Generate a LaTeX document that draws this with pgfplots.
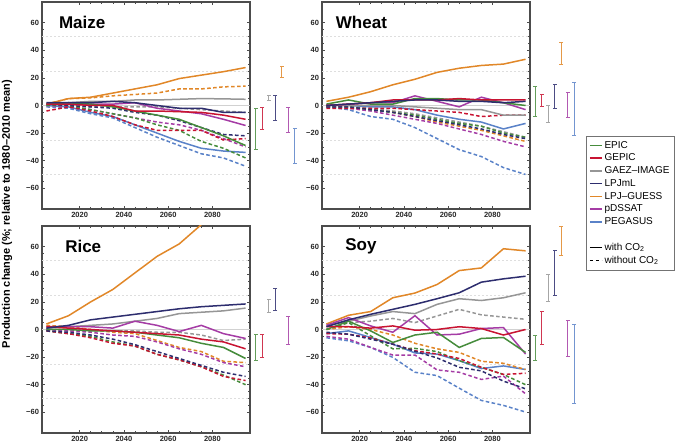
\documentclass[border=0pt]{standalone}
\usepackage{fontspec}
\setmainfont{Liberation Sans}
\usepackage{pgfplots}
\usepackage{pgfplotstable}
\pgfplotsset{compat=1.18}

\definecolor{cEP}{RGB}{70,140,60}
\definecolor{cGE}{RGB}{200,20,50}
\definecolor{cGA}{RGB}{150,150,150}
\definecolor{cLJ}{RGB}{45,45,110}
\definecolor{cLG}{RGB}{225,135,40}
\definecolor{cPD}{RGB}{165,60,165}
\definecolor{cPE}{RGB}{90,130,200}

% columns: w = with CO2, o = without CO2
\pgfplotstableread{
yr   EPw  EPo  GEw  GEo  GAw  GAo  LJw  LJo  LGw  LGo  PDw  PDo  PEw  PEo
2005 1    0    1    -4   1    0    2    1    1    1    1    0    0    -1
2015 2    0    1    -1   2    0    2    0    5    5    1    -1   -1   -2
2025 1    -3   0    -4   3    -1   2    -1   6    5.5  1    -3   -5   -6
2035 -1   -6   0    -8   3    -1   3    -2   9    7    1    -6   -8   -9
2045 -4   -9   -4   -14  4    -1   2    -5   12   8    2    -9   -14  -16
2055 -7   -14  -4   -18  4    -1   0    -7   15   9    -2   -12  -20  -23
2065 -10  -18  -4.5 -18  4.5  -2   -2   -11  19.5 12   -4   -14  -26  -29
2075 -16  -26  -5   -18  5    -3   -2   -16  22   12   -6   -18  -31  -35
2085 -22  -31  -7   -25  4.8  -4   -5   -21  24.5 13.5 -10  -24  -33  -38
2095 -29  -38  -10  -24  4.5  -5   -5   -22  27.5 14   -14.5 -30 -34  -44
}\maize

\pgfplotstableread{
yr   EPw  EPo  GEw  GEo  GAw  GAo  LJw  LJo  LGw  LGo  PDw  PDo  PEw  PEo
2005 1    -1   0    -2   0    -1   0    -1   3    0    0    -1   0    -1
2015 4    -1   1    -2   0    -1   1    -1   6    -1   1    -2   0    -3
2025 1    -3   2    -2   0    -2   2    -3   10   -3   2    -4   -1   -8
2035 1    -5   4    -2   0    -4   3    -5   15   -5   2    -7   -1   -10
2045 5    -7   4    -3   -1   -6   4    -8   19   -8   7    -10  -3   -16
2055 5    -10  4    -4   -2   -9   4    -11  24   -12  3    -13  -7   -24
2065 4    -13  5    -5   -3   -12  3    -14  27   -15  -1   -17  -10  -32
2075 4    -15  4    -8   -3   -15  3    -17  29   -18  6    -21  -12  -37
2085 2    -20  4    -7   -7   -19  2    -21  30   -22  2    -26  -17  -45
2095 0    -23  4    -7   -7   -23  3    -24  33.5 -26  -3   -30  -13  -50
}\wheat

\pgfplotstableread{
yr   EPw  EPo  GEw  GEo  GAw  GAo  LJw  LJo  LGw  LGo  PDw  PDo
2005 0    -1   2    -1   1    0    1    -1   4    3    2    0
2015 0    -3   1    -3   2    -1   3    -2   10   2    2    -1
2025 -1   -5   0    -6   3    -1   7    -4   20   0    2    -2
2035 -1   -9   -1   -10  4    -1   9    -7   29   -2   1    -4
2045 -2   -12  -2   -12  6    -1   11   -11  41   -3   6    -5
2055 -4   -18  -3   -18  8    -2   13   -16  53   -8   3    -9
2065 -6   -22  -4   -22  11.5 -2   15   -21  62   -13  -1.5 -14
2075 -10  -27  -7   -27  12.5 -4   16.5 -26  76   -16  3    -18
2085 -13  -33  -9   -34  13.5 -8   17.5 -31  90   -23  -3   -24
2095 -21  -40  -14  -37  15.5 -7   18.5 -34  102  -24  -6.5 -27
}\rice

\pgfplotstableread{
yr   EPw   EPo   GEw  GEo   GAw  GAo  LJw  LJo   LGw  LGo   PDw   PDo   PEw   PEo
2005 0     0     2    -3    3    0    2    -2    4    0     3     -5    -3    -6
2015 6     5     2    -3.4  6    5    7    -3.4  10.3 2     8.6   -7    -1    -8.2
2025 -1    -4.6  1    -6.2  9.8  6    11   -7    13   0     2.6   -13   -5.8  -13
2035 -9.4  -14   2.6  -10.6 13   8    14.6 -10.6 23   -4    -2    -18.5 -10.6 -20.2
2045 -4    -13.7 -0.5 -15.4 11.5 5    18.2 -15.8 26.4 -10   10    -18.5 -17   -31
2055 -2    -16   0    -17.8 18.2 9.8  22.3 -20.6 32.6 -14   -4    -29.3 -17.8 -33.4
2065 -13   -22.6 2    -21   22.3 14.6 26.6 -27.4 42.7 -16.6 -3.4  -31   -22.6 -42.5
2075 -6.5  -27.4 0.7  -27.4 21   10.6 34.3 -30   44.6 -23   0.7   -36.2 -28.3 -51.4
2085 -5.8  -32.6 -4   -32.6 23   9    36.7 -37.4 58.5 -24.5 1.4   -33.8 -26.4 -55
2095 -16.6 -40   0    -31.7 26.6 7.4  38.6 -43   57   -29   -17.8 -46.6 -29   -59.8
}\soy

\pgfplotsset{
  panel/.style={
    scale only axis, width=208pt, height=207pt, anchor=south west,
    xmin=2003, xmax=2097, ymin=-75, ymax=75,
    xtick={2020,2040,2060,2080}, xticklabels={2020,2040,2060,2080},
    ytick={-60,-40,-20,0,20,40,60}, yticklabels={−60,−40,−20,0,20,40,60},
    minor x tick num=3, minor y tick num=3,
    tick align=inside, tick pos=both,
    major tick length=3pt, minor tick length=1.6pt,
    axis line style={draw=black!70, line width=1.1pt},
    every tick/.style={black!70, line width=0.5pt},
    ticklabel style={font=\bfseries\fontsize{7.5}{8}\selectfont, text=black!85},
    yticklabel style={xshift=0.5pt},
    extra y ticks={-50,-25,25,50}, extra y tick labels={},
    extra y tick style={grid=major, major grid style={dash pattern=on 2pt off 2pt, black!13, line width=0.5pt}, major tick length=0pt, minor tick length=0pt},
    every axis plot/.append style={line width=1.5pt},
  },
  wo/.style={dash pattern=on 3.6pt off 2.4pt},
  bars/.style={
    scale only axis, width=50pt, height=207pt, anchor=south west,
    xmin=0, xmax=50, ymin=-75, ymax=75, hide axis, clip=false,
    every axis plot/.append style={line width=0.9pt, mark=-, mark size=2pt, mark options={solid, line width=0.9pt}},
  },
}
\tikzset{ptitle/.style={anchor=west, font=\bfseries\fontsize{17}{17}\selectfont}}

\newcommand{\zeroline}{\addplot[black!18, line width=0.9pt, forget plot] coordinates {(2003,0) (2097,0)};}
\newcommand{\dashes}[1]{%
  \addplot[cGA,wo,forget plot] table[x=yr,y=GAo]{#1};
  \addplot[cLG,wo,forget plot] table[x=yr,y=LGo]{#1};
  \addplot[cPD,wo,forget plot] table[x=yr,y=PDo]{#1};
  \addplot[cEP,wo,forget plot] table[x=yr,y=EPo]{#1};
  \addplot[cGE,wo,forget plot] table[x=yr,y=GEo]{#1};
  \addplot[cLJ,wo,forget plot] table[x=yr,y=LJo]{#1};}
\newcommand{\solids}[1]{%
  \addplot[cGA,forget plot] table[x=yr,y=GAw]{#1};
  \addplot[cLG,forget plot] table[x=yr,y=LGw]{#1};
  \addplot[cPD,forget plot] table[x=yr,y=PDw]{#1};
  \addplot[cEP,forget plot] table[x=yr,y=EPw]{#1};
  \addplot[cGE,forget plot] table[x=yr,y=GEw]{#1};
  \addplot[cLJ,forget plot] table[x=yr,y=LJw]{#1};}
\newcommand{\pegasus}[1]{%
  \addplot[cPE,wo,forget plot] table[x=yr,y=PEo]{#1};
  \addplot[cPE,forget plot] table[x=yr,y=PEw]{#1};}

\begin{document}
\begin{tikzpicture}
\useasboundingbox (0,0) rectangle (680pt,443pt);

\node[rotate=90, font=\bfseries\fontsize{11}{12}\selectfont] at (7pt,229pt)
  {Production change (\%; relative to 1980–2010 mean)};

% ---------------- Maize
\begin{axis}[panel, at={(42pt,234pt)}]
\zeroline
\pegasus{\maize}
\dashes{\maize}
\solids{\maize}
\node[ptitle] at (rel axis cs:0.065,0.9) {Maize};
\end{axis}
\begin{axis}[bars, at={(250pt,234pt)}]
\addplot[cEP!85] coordinates {(5.5,-2.2) (5.5,-31.7)};
\addplot[cGE!85] coordinates {(12,-1.7) (12,-17.4)};
\addplot[cGA!85] coordinates {(18.5,7.5) (18.5,3.8)};
\addplot[cLJ!85] coordinates {(25,7.5) (25,-11.2)};
\addplot[cLG!85] coordinates {(31.5,28.3) (31.5,20.5)};
\addplot[cPD!85] coordinates {(38,-1.7) (38,-19.2)};
\addplot[cPE!85] coordinates {(44.5,-17) (44.5,-42.1)};
\end{axis}

% ---------------- Wheat
\begin{axis}[panel, at={(322pt,234pt)},
  legend style={at={(axis description cs:1.269,0.353)}, anchor=north west,
    draw=black!55, line width=0.4pt, font=\fontsize{10}{12}\selectfont,
    inner xsep=3pt, inner ysep=3pt, row sep=0.3pt},
  legend cell align=left,
  legend image code/.code={\draw[#1] (0pt,0pt) -- (12pt,0pt);}]
\zeroline
\pegasus{\wheat}
\dashes{\wheat}
\solids{\wheat}
\node[ptitle] at (rel axis cs:0.05,0.9) {Wheat};
\addlegendimage{cEP, line width=1.4pt}\addlegendentry{EPIC}
\addlegendimage{cGE, line width=1.4pt}\addlegendentry{GEPIC}
\addlegendimage{cGA, line width=1.4pt}\addlegendentry{GAEZ–IMAGE}
\addlegendimage{cLJ, line width=1.4pt}\addlegendentry{LPJmL}
\addlegendimage{cLG, line width=1.4pt}\addlegendentry{LPJ–GUESS}
\addlegendimage{cPD, line width=1.4pt}\addlegendentry{pDSSAT}
\addlegendimage{cPE, line width=1.4pt}\addlegendentry{PEGASUS}
\addlegendimage{empty legend}\addlegendentry{\phantom{X}}
\addlegendimage{black, line width=1.4pt}\addlegendentry{with CO\textsubscript{2}}
\addlegendimage{black, line width=1.4pt, wo}\addlegendentry{without CO\textsubscript{2}}
\end{axis}
\begin{axis}[bars, at={(530pt,234pt)}]
\addplot[cEP!85] coordinates {(5,14) (5,-8.3)};
\addplot[cGE!85] coordinates {(11.5,8) (11.5,-1)};
\addplot[cGA!85] coordinates {(18,-0.3) (18,-12.4)};
\addplot[cLJ!85] coordinates {(24.5,15.2) (24.5,-2.4)};
\addplot[cLG!85] coordinates {(31,45.7) (31,29.8)};
\addplot[cPD!85] coordinates {(37.5,9.7) (37.5,-8.7)};
\addplot[cPE!85] coordinates {(44,16.7) (44,-21.6)};
\end{axis}

% ---------------- Rice
\begin{axis}[panel, at={(42pt,10pt)}]
\zeroline
\dashes{\rice}
\solids{\rice}
\node[ptitle] at (rel axis cs:0.095,0.9) {Rice};
\end{axis}
\begin{axis}[bars, at={(250pt,10pt)}]
\addplot[cEP!85] coordinates {(5.5,-3.4) (5.5,-22.6)};
\addplot[cGE!85] coordinates {(12,-3.4) (12,-20.2)};
\addplot[cGA!85] coordinates {(18.5,21.8) (18.5,12)};
\addplot[cLJ!85] coordinates {(25,29.5) (25,13.9)};
\addplot[cPD!85] coordinates {(38,9.4) (38,-11)};
\end{axis}

% ---------------- Soy
\begin{axis}[panel, at={(322pt,10pt)}]
\zeroline
\pegasus{\soy}
\dashes{\soy}
\solids{\soy}
\node[ptitle] at (rel axis cs:0.095,0.9) {Soy};
\end{axis}
\begin{axis}[bars, at={(530pt,10pt)}]
\addplot[cEP!85] coordinates {(5,-4.6) (5,-22.6)};
\addplot[cGE!85] coordinates {(11.5,13.2) (11.5,-11)};
\addplot[cGA!85] coordinates {(18,39.8) (18,20.6)};
\addplot[cLJ!85] coordinates {(24.5,57.6) (24.5,24.5)};
\addplot[cLG!85] coordinates {(31,74.9) (31,53.3)};
\addplot[cPD!85] coordinates {(37.5,6.7) (37.5,-19.7)};
\addplot[cPE!85] coordinates {(44,3.6) (44,-53.8)};
\end{axis}
\end{tikzpicture}
\end{document}
